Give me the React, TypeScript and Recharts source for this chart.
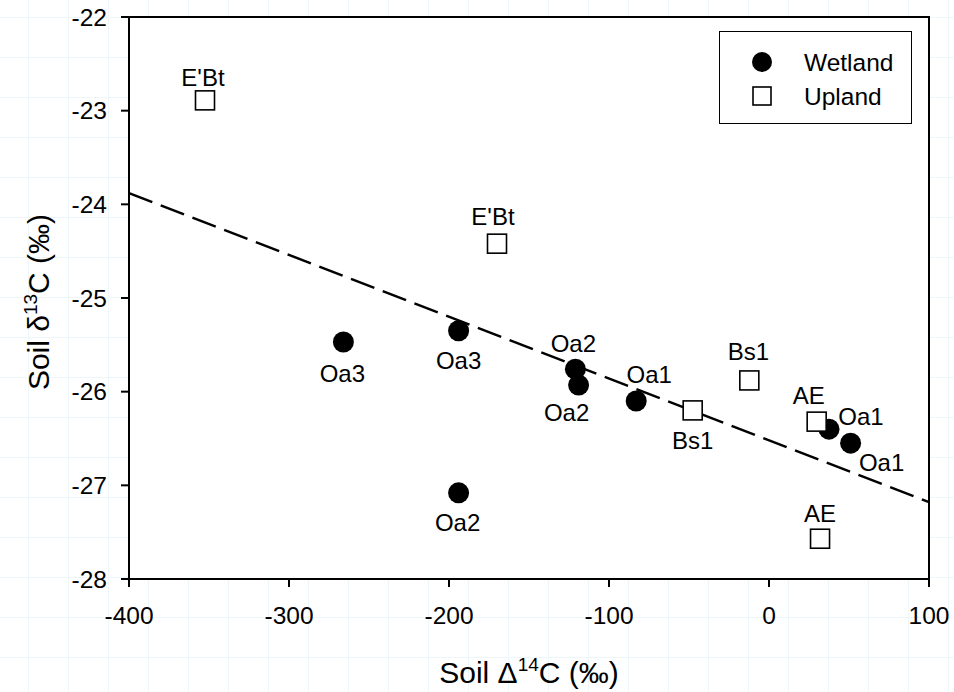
import {
  ScatterChart,
  Scatter,
  XAxis,
  YAxis,
  ReferenceArea,
  ReferenceLine,
  Legend,
  Customized,
} from "recharts"

const FONT = "'Liberation Sans', Arial, sans-serif"

// Wetland (filled circles)
const wetlandX = [-266, -194, -121, -119, -83, -194, 37.5, 51]
const wetlandY = [-25.47, -25.35, -25.76, -25.93, -26.1, -27.08, -26.4, -26.55]
const wetlandNames = ["Oa3", "Oa3", "Oa2", "Oa2", "Oa1", "Oa2", "Oa1", "Oa1"]

// Upland (open squares)
const uplandX = [-352.5, -170, -47.7, -12.3, 29.8, 31.9]
const uplandY = [-22.89, -24.42, -26.2, -25.88, -26.32, -27.57]
const uplandNames = ["E'Bt", "E'Bt", "Bs1", "Bs1", "AE", "AE"]

// label placement next to each point (px)
const wetlandLabelDx = [-1, 0, -2, -12, 13, -1, 32, 31]
const wetlandLabelDy = [31, 30, -26, 27, -27, 30, -13, 19]
const uplandLabelDx = [-2, -4, 0, -1, -8, 0]
const uplandLabelDy = [-23, -27, 30, -29, -26, -25]

// regression fit end points
const fitX = [-400, 100]
const fitY = [-23.88, -27.18]

const xTicks = [-400, -300, -200, -100, 0, 100]
const yTicks = [-28, -27, -26, -25, -24, -23, -22]

const wetland = wetlandX.map((x, i) => ({
  x,
  y: wetlandY[i],
  name: wetlandNames[i],
  dx: wetlandLabelDx[i],
  dy: wetlandLabelDy[i],
}))
const upland = uplandX.map((x, i) => ({
  x,
  y: uplandY[i],
  name: uplandNames[i],
  dx: uplandLabelDx[i],
  dy: uplandLabelDy[i],
}))

function PointLabel({ cx, cy, p }: { cx: number; cy: number; p: any }) {
  return (
    <text
      x={cx + p.dx}
      y={cy + p.dy + 8.5}
      textAnchor="middle"
      fontSize={24}
      fontFamily={FONT}
      fill="#000"
    >
      {p.name}
    </text>
  )
}

function CircleShape(props: any) {
  const { cx, cy, payload } = props
  return (
    <g>
      <circle cx={cx} cy={cy} r={10.5} fill="#000" />
      <PointLabel cx={cx} cy={cy} p={payload} />
    </g>
  )
}

function SquareShape(props: any) {
  const { cx, cy, payload } = props
  return (
    <g>
      <rect x={cx - 9.5} y={cy - 9.5} width={19} height={19} fill="#fff" stroke="#000" strokeWidth={1.6} />
      <PointLabel cx={cx} cy={cy} p={payload} />
    </g>
  )
}

function LegendBox() {
  return (
    <div
      style={{
        position: "relative",
        width: 193,
        height: 93,
        boxSizing: "border-box",
        border: "1.5px solid #000",
        background: "#fff",
        fontFamily: FONT,
        color: "#000",
      }}
    >
      <svg width={193} height={93} style={{ position: "absolute", left: -1.5, top: -1.5 }}>
        <circle cx={43} cy={31} r={10} fill="#000" />
        <rect x={34} y={56} width={18} height={18} fill="#fff" stroke="#000" strokeWidth={1.6} />
        <text x={85} y={39.5} fontSize={24.5} fontFamily={FONT}>Wetland</text>
        <text x={85} y={73.5} fontSize={24.5} fontFamily={FONT}>Upland</text>
      </svg>
    </div>
  )
}

function Extras() {
  return (
    <g fontFamily={FONT} fill="#000">
      <text x={905} y={172} textAnchor="end" fontSize={25}>
        <tspan>R</tspan>
        <tspan fontSize={16} dy={-10}>2</tspan>
        <tspan dy={10}> = 0.52</tspan>
      </text>
      <text x={905} y={200} textAnchor="end" fontSize={25}>
        <tspan fontStyle="italic">p</tspan>
        <tspan> = 0.003</tspan>
      </text>
      <text x={529} y={683} textAnchor="middle" fontSize={30}>
        <tspan>Soil Δ</tspan>
        <tspan fontSize={19} dy={-12}>14</tspan>
        <tspan dy={12}>C (‰)</tspan>
      </text>
      <text x={38} y={313} textAnchor="middle" fontSize={30} transform="rotate(-90 38 302)">
        <tspan>Soil δ</tspan>
        <tspan fontSize={19} dy={-12}>13</tspan>
        <tspan dy={12}>C (‰)</tspan>
      </text>
    </g>
  )
}

export default function App() {
  return (
    <div
      style={{
        position: "absolute",
        left: 0,
        top: 0,
        width: 954,
        height: 692,
        background: "#fff",
        backgroundImage:
          "linear-gradient(to right, #edf6f8 1px, transparent 1px), linear-gradient(to bottom, #edf6f8 1px, transparent 1px)",
        backgroundSize: "40px 40px",
        backgroundPosition: "28px 17px",
      }}
    >
      <ScatterChart width={954} height={692} margin={{ top: 17, right: 25, bottom: 0, left: 0 }}>
        <ReferenceArea x1={-400} x2={100} y1={-28} y2={-22} fill="#fff" fillOpacity={1} stroke="#000" strokeWidth={2} />
        <XAxis
          type="number"
          dataKey="x"
          domain={[-400, 100]}
          ticks={xTicks}
          height={113}
          tickSize={8}
          tickMargin={20}
          axisLine={{ stroke: "#000", strokeWidth: 2 }}
          tickLine={{ stroke: "#000", strokeWidth: 2 }}
          tick={{ fontSize: 24.5, fill: "#000", fontFamily: FONT }}
          allowDataOverflow
        />
        <YAxis
          type="number"
          dataKey="y"
          domain={[-28, -22]}
          ticks={yTicks}
          width={129}
          tickSize={8}
          tickMargin={14}
          axisLine={{ stroke: "#000", strokeWidth: 2 }}
          tickLine={{ stroke: "#000", strokeWidth: 2 }}
          tick={{ fontSize: 24.5, fill: "#000", fontFamily: FONT }}
          allowDataOverflow
        />
        <ReferenceLine
          segment={[
            { x: fitX[0], y: fitY[0] },
            { x: fitX[1], y: fitY[1] },
          ]}
          stroke="#000"
          strokeWidth={2.5}
          strokeDasharray="25 9"
        />
        <Scatter name="Wetland" data={wetland} shape={CircleShape} isAnimationActive={false} />
        <Scatter name="Upland" data={upland} shape={SquareShape} isAnimationActive={false} />
        <Legend
          layout="horizontal"
          verticalAlign="middle"
          align="center"
          content={() => <LegendBox />}
          wrapperStyle={{ position: "absolute", left: 719, top: 31, width: 193, height: 93 }}
        />
        <Customized component={Extras} />
      </ScatterChart>
    </div>
  )
}
